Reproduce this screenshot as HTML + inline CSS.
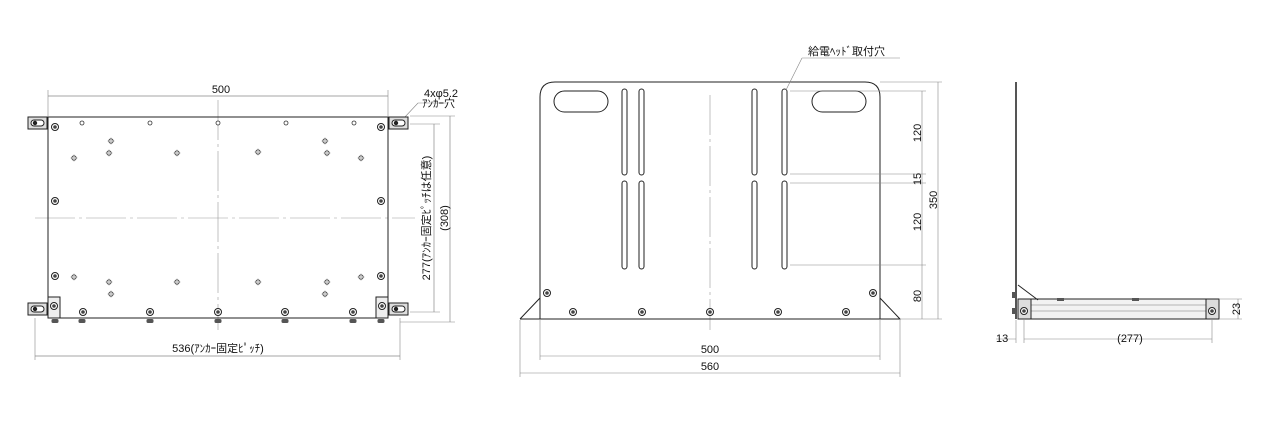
<!DOCTYPE html>
<html><head><meta charset="utf-8"><style>
body{margin:0;background:#fff;width:1280px;height:421px;overflow:hidden}
svg{display:block}
text{font-family:"Liberation Sans","Noto Sans CJK JP",sans-serif;font-size:11px;fill:#111}
</style></head><body>
<svg width="1280" height="421" viewBox="0 0 1280 421" xmlns="http://www.w3.org/2000/svg">
<defs>
<g id="scr"><circle r="3.5" fill="#fff" stroke="#222" stroke-width="1"/><circle r="1.8" fill="#444"/></g>
<g id="hol"><circle r="2.2" fill="#fff" stroke="#333" stroke-width="0.8"/><line x1="-3.5" y1="0" x2="3.5" y2="0" stroke="#888" stroke-width="0.5"/><line x1="0" y1="-3.5" x2="0" y2="3.5" stroke="#888" stroke-width="0.5"/></g>
<g id="brk"><rect x="0" y="0" width="19" height="12" fill="#ddd" stroke="#222"/><rect x="3" y="3" width="13" height="6" rx="3" fill="#fff" stroke="#222"/><circle cx="7" cy="6" r="2.2" fill="#222"/></g>
<g id="nut"><rect x="-3.5" y="0" width="7" height="4" rx="1.5" fill="#555"/></g>
</defs>
<g fill="none" stroke="#222" stroke-width="1">
<!-- LEFT VIEW -->
<line x1="35" y1="218" x2="415" y2="218" stroke="#999" stroke-width="0.6" stroke-dasharray="40 4 3 4"/>
<line x1="218" y1="100" x2="218" y2="330" stroke="#999" stroke-width="0.6" stroke-dasharray="40 4 3 4"/>
<rect x="48" y="117" width="340" height="201"/>
<line x1="48" y1="96" x2="388" y2="96" stroke="#888" stroke-width="0.7"/>
<line x1="48" y1="90" x2="48" y2="117" stroke="#888" stroke-width="0.6"/>
<line x1="388" y1="90" x2="388" y2="117" stroke="#888" stroke-width="0.6"/>
<line x1="35" y1="356" x2="400" y2="356" stroke="#888" stroke-width="0.7"/>
<line x1="35" y1="318" x2="35" y2="360" stroke="#888" stroke-width="0.6"/>
<line x1="400" y1="318" x2="400" y2="360" stroke="#888" stroke-width="0.6"/>
<line x1="434" y1="124" x2="434" y2="312" stroke="#888" stroke-width="0.7"/>
<line x1="410" y1="124" x2="440" y2="124" stroke="#888" stroke-width="0.6"/>
<line x1="410" y1="312" x2="440" y2="312" stroke="#888" stroke-width="0.6"/>
<line x1="450" y1="116" x2="450" y2="322" stroke="#888" stroke-width="0.7"/>
<line x1="410" y1="116" x2="455" y2="116" stroke="#888" stroke-width="0.6"/>
<line x1="400" y1="322" x2="455" y2="322" stroke="#888" stroke-width="0.6"/>
<line x1="404" y1="118" x2="418" y2="103" stroke="#888" stroke-width="0.6"/>
<line x1="418" y1="103" x2="448" y2="103" stroke="#888" stroke-width="0.6"/>
<rect x="48" y="297" width="12" height="21" fill="#eee"/>
<rect x="376" y="297" width="12" height="21" fill="#eee"/>
</g>
<use href="#brk" x="28" y="117"/><use href="#brk" x="389" y="117"/>
<use href="#brk" x="28" y="303"/><use href="#brk" x="389" y="303"/>
<use href="#scr" x="54" y="306"/><use href="#scr" x="382" y="306"/>
<use href="#scr" x="55" y="127"/><use href="#scr" x="55" y="201"/><use href="#scr" x="55" y="276"/>
<use href="#scr" x="381" y="127"/><use href="#scr" x="381" y="201"/><use href="#scr" x="381" y="276"/>
<use href="#scr" x="83" y="312"/><use href="#scr" x="150" y="312"/><use href="#scr" x="218" y="312"/><use href="#scr" x="285" y="312"/><use href="#scr" x="353" y="312"/>
<use href="#nut" x="55" y="319"/><use href="#nut" x="82" y="319"/><use href="#nut" x="150" y="319"/><use href="#nut" x="218" y="319"/><use href="#nut" x="285" y="319"/><use href="#nut" x="353" y="319"/><use href="#nut" x="381" y="319"/>
<g fill="#fff" stroke="#333" stroke-width="0.8"><circle cx="82" cy="123" r="2"/><circle cx="150" cy="123" r="2"/><circle cx="218" cy="123" r="2"/><circle cx="286" cy="123" r="2"/><circle cx="354" cy="123" r="2"/></g>
<use href="#hol" x="111" y="141"/><use href="#hol" x="109" y="153"/><use href="#hol" x="74" y="158"/><use href="#hol" x="177" y="153"/><use href="#hol" x="258" y="152"/><use href="#hol" x="325" y="141"/><use href="#hol" x="327" y="153"/><use href="#hol" x="361" y="158"/>
<use href="#hol" x="74" y="277"/><use href="#hol" x="109" y="282"/><use href="#hol" x="111" y="294"/><use href="#hol" x="177" y="282"/><use href="#hol" x="258" y="282"/><use href="#hol" x="327" y="282"/><use href="#hol" x="325" y="294"/><use href="#hol" x="361" y="277"/>
<text x="221" y="93" text-anchor="middle" font-size="12">500</text>
<text x="218" y="352" text-anchor="middle">536(ｱﾝｶｰ固定ﾋﾟｯﾁ)</text>
<text x="424" y="97" font-size="11">4xφ5.2</text>
<text x="422" y="107" font-size="10">ｱﾝｶｰ穴</text>
<text transform="translate(430,218) rotate(-90)" text-anchor="middle" font-size="11">277(ｱﾝｶｰ固定ﾋﾟｯﾁは任意)</text>
<text transform="translate(448,218) rotate(-90)" text-anchor="middle" font-size="11">(308)</text>

<!-- MIDDLE VIEW -->
<g fill="none" stroke="#222" stroke-width="1">
<line x1="710" y1="95" x2="710" y2="330" stroke="#999" stroke-width="0.6" stroke-dasharray="40 4 3 4"/>
<path d="M540 319 V97 Q540 82 555 82 H865 Q880 82 880 97 V319"/>
<path d="M520 319 H900 L880 298 V319 M520 319 L540 298"/>
<rect x="554" y="91" width="54" height="21" rx="10.5"/>
<rect x="812" y="91" width="54" height="21" rx="10.5"/>
<rect x="622" y="89" width="5" height="86" rx="2.5"/><rect x="639" y="89" width="5" height="86" rx="2.5"/>
<rect x="752" y="89" width="5" height="86" rx="2.5"/><rect x="782" y="89" width="5" height="86" rx="2.5"/>
<rect x="622" y="181" width="5" height="88" rx="2.5"/><rect x="639" y="181" width="5" height="88" rx="2.5"/>
<rect x="752" y="181" width="5" height="88" rx="2.5"/><rect x="782" y="181" width="5" height="88" rx="2.5"/>
<g stroke="#888" stroke-width="0.6">
<line x1="540" y1="356" x2="880" y2="356"/><line x1="520" y1="373" x2="900" y2="373"/>
<line x1="540" y1="320" x2="540" y2="360"/><line x1="880" y1="320" x2="880" y2="360"/>
<line x1="520" y1="320" x2="520" y2="377"/><line x1="900" y1="320" x2="900" y2="377"/>
<line x1="922" y1="91" x2="922" y2="319"/><line x1="938" y1="82" x2="938" y2="319"/>
<line x1="880" y1="82" x2="942" y2="82"/><line x1="790" y1="91" x2="926" y2="91"/>
<line x1="790" y1="174" x2="926" y2="174"/><line x1="790" y1="183" x2="926" y2="183"/>
<line x1="790" y1="265" x2="926" y2="265"/><line x1="900" y1="319" x2="942" y2="319"/>
<line x1="786" y1="90" x2="802" y2="58"/><line x1="802" y1="58" x2="900" y2="58"/>
</g>
</g>
<use href="#scr" x="547" y="293"/><use href="#scr" x="573" y="312"/><use href="#scr" x="642" y="312"/><use href="#scr" x="710" y="312"/><use href="#scr" x="778" y="312"/><use href="#scr" x="846" y="312"/><use href="#scr" x="873" y="293"/>
<text x="710" y="353" text-anchor="middle" font-size="12">500</text>
<text x="710" y="370" text-anchor="middle" font-size="12">560</text>
<text x="808" y="55" font-size="11">給電ﾍｯﾄﾞ取付穴</text>
<text transform="translate(921,133) rotate(-90)" text-anchor="middle" font-size="12">120</text>
<text transform="translate(921,179) rotate(-90)" text-anchor="middle" font-size="12">15</text>
<text transform="translate(921,222) rotate(-90)" text-anchor="middle" font-size="12">120</text>
<text transform="translate(921,296) rotate(-90)" text-anchor="middle" font-size="12">80</text>
<text transform="translate(937,200) rotate(-90)" text-anchor="middle" font-size="12">350</text>

<!-- RIGHT VIEW -->
<g fill="none" stroke="#222" stroke-width="1">
<rect x="1015" y="82" width="2" height="237" fill="#555" stroke="none"/>
<rect x="1018" y="299" width="201" height="20" fill="#f2f2f2"/>
<line x1="1018" y1="305" x2="1219" y2="305" stroke="#777" stroke-width="0.6"/>
<line x1="1018" y1="311" x2="1219" y2="311" stroke="#777" stroke-width="0.6"/>
<path d="M1018 285 L1038 300" />
<rect x="1018" y="299" width="13" height="20" fill="#ddd"/>
<rect x="1206" y="299" width="13" height="20" fill="#ddd"/>
<g stroke="#888" stroke-width="0.6">
<line x1="1024" y1="339" x2="1212" y2="339"/><line x1="1024" y1="319" x2="1024" y2="343"/><line x1="1212" y1="319" x2="1212" y2="343"/>
<line x1="1016" y1="320" x2="1016" y2="343"/><line x1="996" y1="339" x2="1016" y2="339"/>
<line x1="1238" y1="299" x2="1238" y2="319"/><line x1="1220" y1="299" x2="1242" y2="299"/><line x1="1220" y1="319" x2="1242" y2="319"/>
</g>
</g>
<use href="#scr" x="1024" y="311"/><use href="#scr" x="1212" y="311"/>
<rect x="1057" y="298" width="7" height="3" fill="#555"/><rect x="1132" y="298" width="7" height="3" fill="#555"/>
<rect x="1012" y="292" width="3" height="6" fill="#555"/><rect x="1012" y="308" width="3" height="6" fill="#555"/>
<text x="996" y="342" font-size="12">13</text>
<text x="1130" y="342" text-anchor="middle" font-size="12">(277)</text>
<text transform="translate(1240,309) rotate(-90)" text-anchor="middle" font-size="12">23</text>
</svg>
</body></html>
